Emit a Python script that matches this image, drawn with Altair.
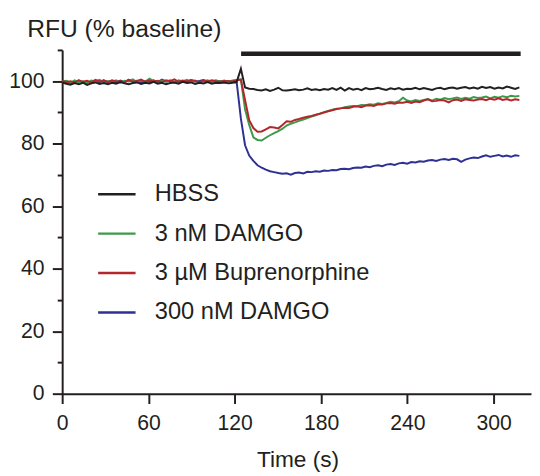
import altair as alt
import pandas as pd

# ---- data ----
sample_interval_s = 2.89
n_samples = 111
time_s = [round(i * sample_interval_s, 2) for i in range(n_samples)]

hbss = [
    99.6, 99.2, 98.9, 99.4, 99.0, 99.5, 98.8, 99.3, 99.6, 99.1,
    99.4, 99.0, 99.5, 99.2, 99.7, 99.3, 99.0, 99.4, 99.6, 99.1,
    99.5, 99.3, 99.8, 99.2, 99.5, 99.0, 99.4, 99.6, 99.2, 99.8,
    99.4, 99.6, 99.1, 99.5, 99.3, 99.7, 99.2, 99.5, 99.4, 99.6,
    99.3, 99.5, 99.8, 104.0, 98.0, 97.6, 97.5, 97.2, 97.0, 97.4,
    96.9, 97.3, 97.9, 97.1, 97.0, 97.2, 97.4, 97.1, 97.3, 97.7,
    97.2, 97.4, 97.1, 97.5, 97.3, 97.8, 97.2, 97.9, 97.0, 97.8,
    97.3, 97.6, 97.1, 97.8, 97.4, 97.6, 97.9, 97.5, 97.2, 97.7,
    97.4, 97.8, 97.3, 97.6, 97.5, 97.9, 97.4, 97.8, 97.5, 97.2,
    97.7, 97.9, 97.4, 97.8, 98.0, 97.6, 97.9, 98.1, 97.7, 98.0,
    97.6, 98.2, 97.8, 98.1, 97.6, 98.0, 97.7, 98.3, 97.9, 97.5,
    98.0,
]

damgo_3nm = [
    99.8, 100.1, 99.5, 100.3, 99.7, 100.0, 99.4, 100.2, 99.9, 100.4,
    99.6, 100.0, 99.8, 100.3, 99.5, 100.1, 99.9, 100.6, 99.7, 100.2,
    99.9, 100.8, 100.0, 99.6, 100.2, 99.8, 100.3, 99.7, 100.1, 99.9,
    100.4, 99.8, 100.2, 99.6, 100.0, 100.3, 99.7, 100.1, 99.9, 100.2,
    99.8, 100.2, 100.4, 100.6, 91.0, 86.0, 82.0, 81.2, 81.0, 81.9,
    82.7, 83.4, 84.0, 84.8, 85.8, 86.4, 86.8, 87.3, 87.7, 88.2,
    88.7, 89.1, 89.6, 90.1, 90.5, 90.9, 91.2, 91.3, 91.7, 91.9,
    92.1, 92.0, 92.4, 92.3, 92.6, 92.5, 92.9, 92.7, 93.0, 93.4,
    93.2, 93.6, 94.7, 93.8, 93.5, 94.0, 93.7, 94.0, 94.3, 93.8,
    94.4, 94.1, 94.6, 94.2, 94.5, 94.8, 94.3, 94.7, 94.4, 94.9,
    94.6, 94.8, 95.1, 94.5, 95.0, 94.7, 95.2, 94.9, 95.3, 95.1,
    95.3,
]

bup_3um = [
    100.2, 99.7, 100.0, 99.5, 100.3, 99.8, 100.1, 99.6, 100.4, 99.9,
    100.2, 99.7, 100.3, 99.9, 100.0, 99.6, 100.4, 99.8, 100.1, 100.5,
    99.8, 100.2, 99.9, 100.1, 99.7, 100.3, 100.0, 100.6, 99.8, 100.2,
    99.9, 100.4, 100.1, 99.7, 100.2, 99.9, 100.3, 100.0, 99.8, 100.1,
    100.0, 99.9, 100.3, 100.5, 94.0, 87.5, 85.0, 83.8, 83.9, 84.6,
    85.3, 85.2, 84.9, 86.0, 87.2, 87.0, 87.6, 87.9, 88.3, 88.6,
    88.9, 89.3, 89.6, 90.0, 90.4, 90.7, 91.1, 91.3, 91.5, 91.4,
    91.8, 92.0, 91.7, 92.2, 92.3, 92.1, 92.6, 92.5, 92.9, 93.0,
    92.8, 93.2, 93.1, 93.4, 93.0, 93.5, 93.3, 93.8, 94.2, 93.6,
    93.7, 94.0, 93.8, 93.2, 93.9, 94.1, 93.7, 94.2, 94.0, 93.8,
    94.1, 94.3, 93.9, 94.4, 94.1, 94.5, 94.0, 94.3, 93.8, 94.2,
    94.0,
]

damgo_300nm = [
    99.5, 100.0, 99.3, 99.8, 100.2, 99.6, 99.9, 99.4, 100.1, 99.7,
    100.3, 99.8, 100.0, 99.5, 100.2, 99.7, 100.4, 99.9, 100.1, 99.6,
    100.0, 99.8, 100.3, 99.7, 100.5, 99.9, 100.1, 99.6, 100.2, 100.0,
    99.7, 100.3, 99.9, 100.1, 100.4, 99.8, 100.0, 100.2, 99.9, 100.1,
    100.0, 99.8, 99.5, 88.0, 79.5, 76.2, 74.5, 73.1, 72.3, 71.7,
    71.2, 70.9, 70.6, 70.4, 70.5, 70.1, 70.6, 70.8, 70.5, 71.0,
    70.9, 71.2, 71.0, 71.4, 71.3, 71.6, 71.5, 71.9, 72.0, 71.8,
    72.2, 72.4, 72.3, 72.7, 72.5, 72.9, 73.1, 72.8, 73.3, 73.5,
    73.2, 73.7, 73.9, 73.6, 74.1, 74.0, 74.4, 74.2, 74.6, 74.8,
    74.5, 74.9, 75.1, 74.8, 75.2, 75.0, 74.2, 74.9, 75.3, 75.6,
    75.4, 75.9, 76.3, 75.8, 76.1, 76.4, 75.9, 76.2, 75.8, 76.3,
    76.1,
]

series_names = ["HBSS", "3 nM DAMGO", "3 µM Buprenorphine", "300 nM DAMGO"]
series_colors = ["#231f20", "#3c9a49", "#b3262c", "#2e3192"]
draw_order = ["300 nM DAMGO", "3 nM DAMGO", "3 µM Buprenorphine", "HBSS"]

x_ticks = [0, 60, 120, 180, 240, 300]
y_ticks = [0, 10, 20, 30, 40, 50, 60, 70, 80, 90, 100, 110]

# drug application period (bar)
bar_start = [124.4]
bar_end = [318.8]
bar_level = [108.8]

# ---- build table ----
series_values = {
    "HBSS": hbss,
    "3 nM DAMGO": damgo_3nm,
    "3 µM Buprenorphine": bup_3um,
    "300 nM DAMGO": damgo_300nm,
}
rows = []
for name in series_names:
    for t, v in zip(time_s, series_values[name]):
        rows.append({"time": t, "rfu": v, "series": name})
df = pd.DataFrame(rows)
bar_df = pd.DataFrame({"start": bar_start, "end": bar_end, "level": bar_level})

FONT = "Liberation Sans"
INK = "#231f20"

x_scale = alt.Scale(domain=[0, 326], nice=False, zero=False)
y_scale = alt.Scale(domain=[0, 110], nice=False)

x_axis = alt.Axis(
    values=x_ticks, title="Time (s)", grid=False,
    tickSize=10, tickWidth=2, domainWidth=2, tickColor=INK, domainColor=INK,
    labelFontSize=21.5, labelFont=FONT, labelColor=INK, labelPadding=9,
    labelFlush=False,
    titleFontSize=23, titleFont=FONT, titleColor=INK, titleFontWeight="normal",
    titleX=239, titleY=74, titleAlign="center", titleBaseline="alphabetic",
)

y_axis = alt.Axis(
    values=y_ticks, title="RFU (% baseline)", grid=False, orient="left",
    tickSize={"condition": {"test": "datum.value % 20 === 0", "value": 10}, "value": 5},
    tickWidth=2, domainWidth=2, tickColor=INK, domainColor=INK,
    labelExpr="datum.value % 20 === 0 && datum.value <= 100 ? datum.label : ''",
    labelFontSize=21.5, labelFont=FONT, labelColor=INK, labelPadding=8.5,
    labelFlush=False,
    titleFontSize=25, titleFont=FONT, titleColor=INK, titleFontWeight="normal",
    titleAngle=0, titleAlign="left", titleBaseline="alphabetic",
    titleX=-36, titleY=-14,
)

x_enc = alt.X("time:Q", scale=x_scale, axis=x_axis)
y_enc = alt.Y("rfu:Q", scale=y_scale, axis=y_axis)

color = alt.Color(
    "series:N",
    scale=alt.Scale(domain=series_names, range=series_colors),
    legend=alt.Legend(title=None),
)

bar = alt.Chart(bar_df).mark_rule(strokeWidth=4.5, color=INK, strokeCap="butt").encode(
    x=alt.X("start:Q", scale=x_scale, axis=x_axis),
    x2="end:Q",
    y=alt.Y("level:Q", scale=y_scale, axis=y_axis),
)

layers = [bar]
for name in draw_order:
    layer = alt.Chart(df).transform_filter(
        alt.datum.series == name
    ).mark_line(strokeWidth=2, interpolate="linear").encode(
        x=x_enc,
        y=y_enc,
        color=color,
    )
    layers.append(layer)

chart = alt.layer(*layers).properties(
    width=476,
    height=349,
    autosize=alt.AutoSizeParams(type="none"),
    padding={"left": 55, "top": 39, "right": 1, "bottom": 80},
).configure_view(stroke=None).configure_legend(
    orient="none", legendX=35, legendY=126, padding=0,
    symbolType="stroke", symbolSize=1444, symbolStrokeWidth=2.5,
    labelFontSize=24, labelFont=FONT, labelColor=INK, labelOffset=18,
    labelLimit=400, rowPadding=7,
)

chart.save("out.html", embed_options={"renderer": "svg", "actions": False})
